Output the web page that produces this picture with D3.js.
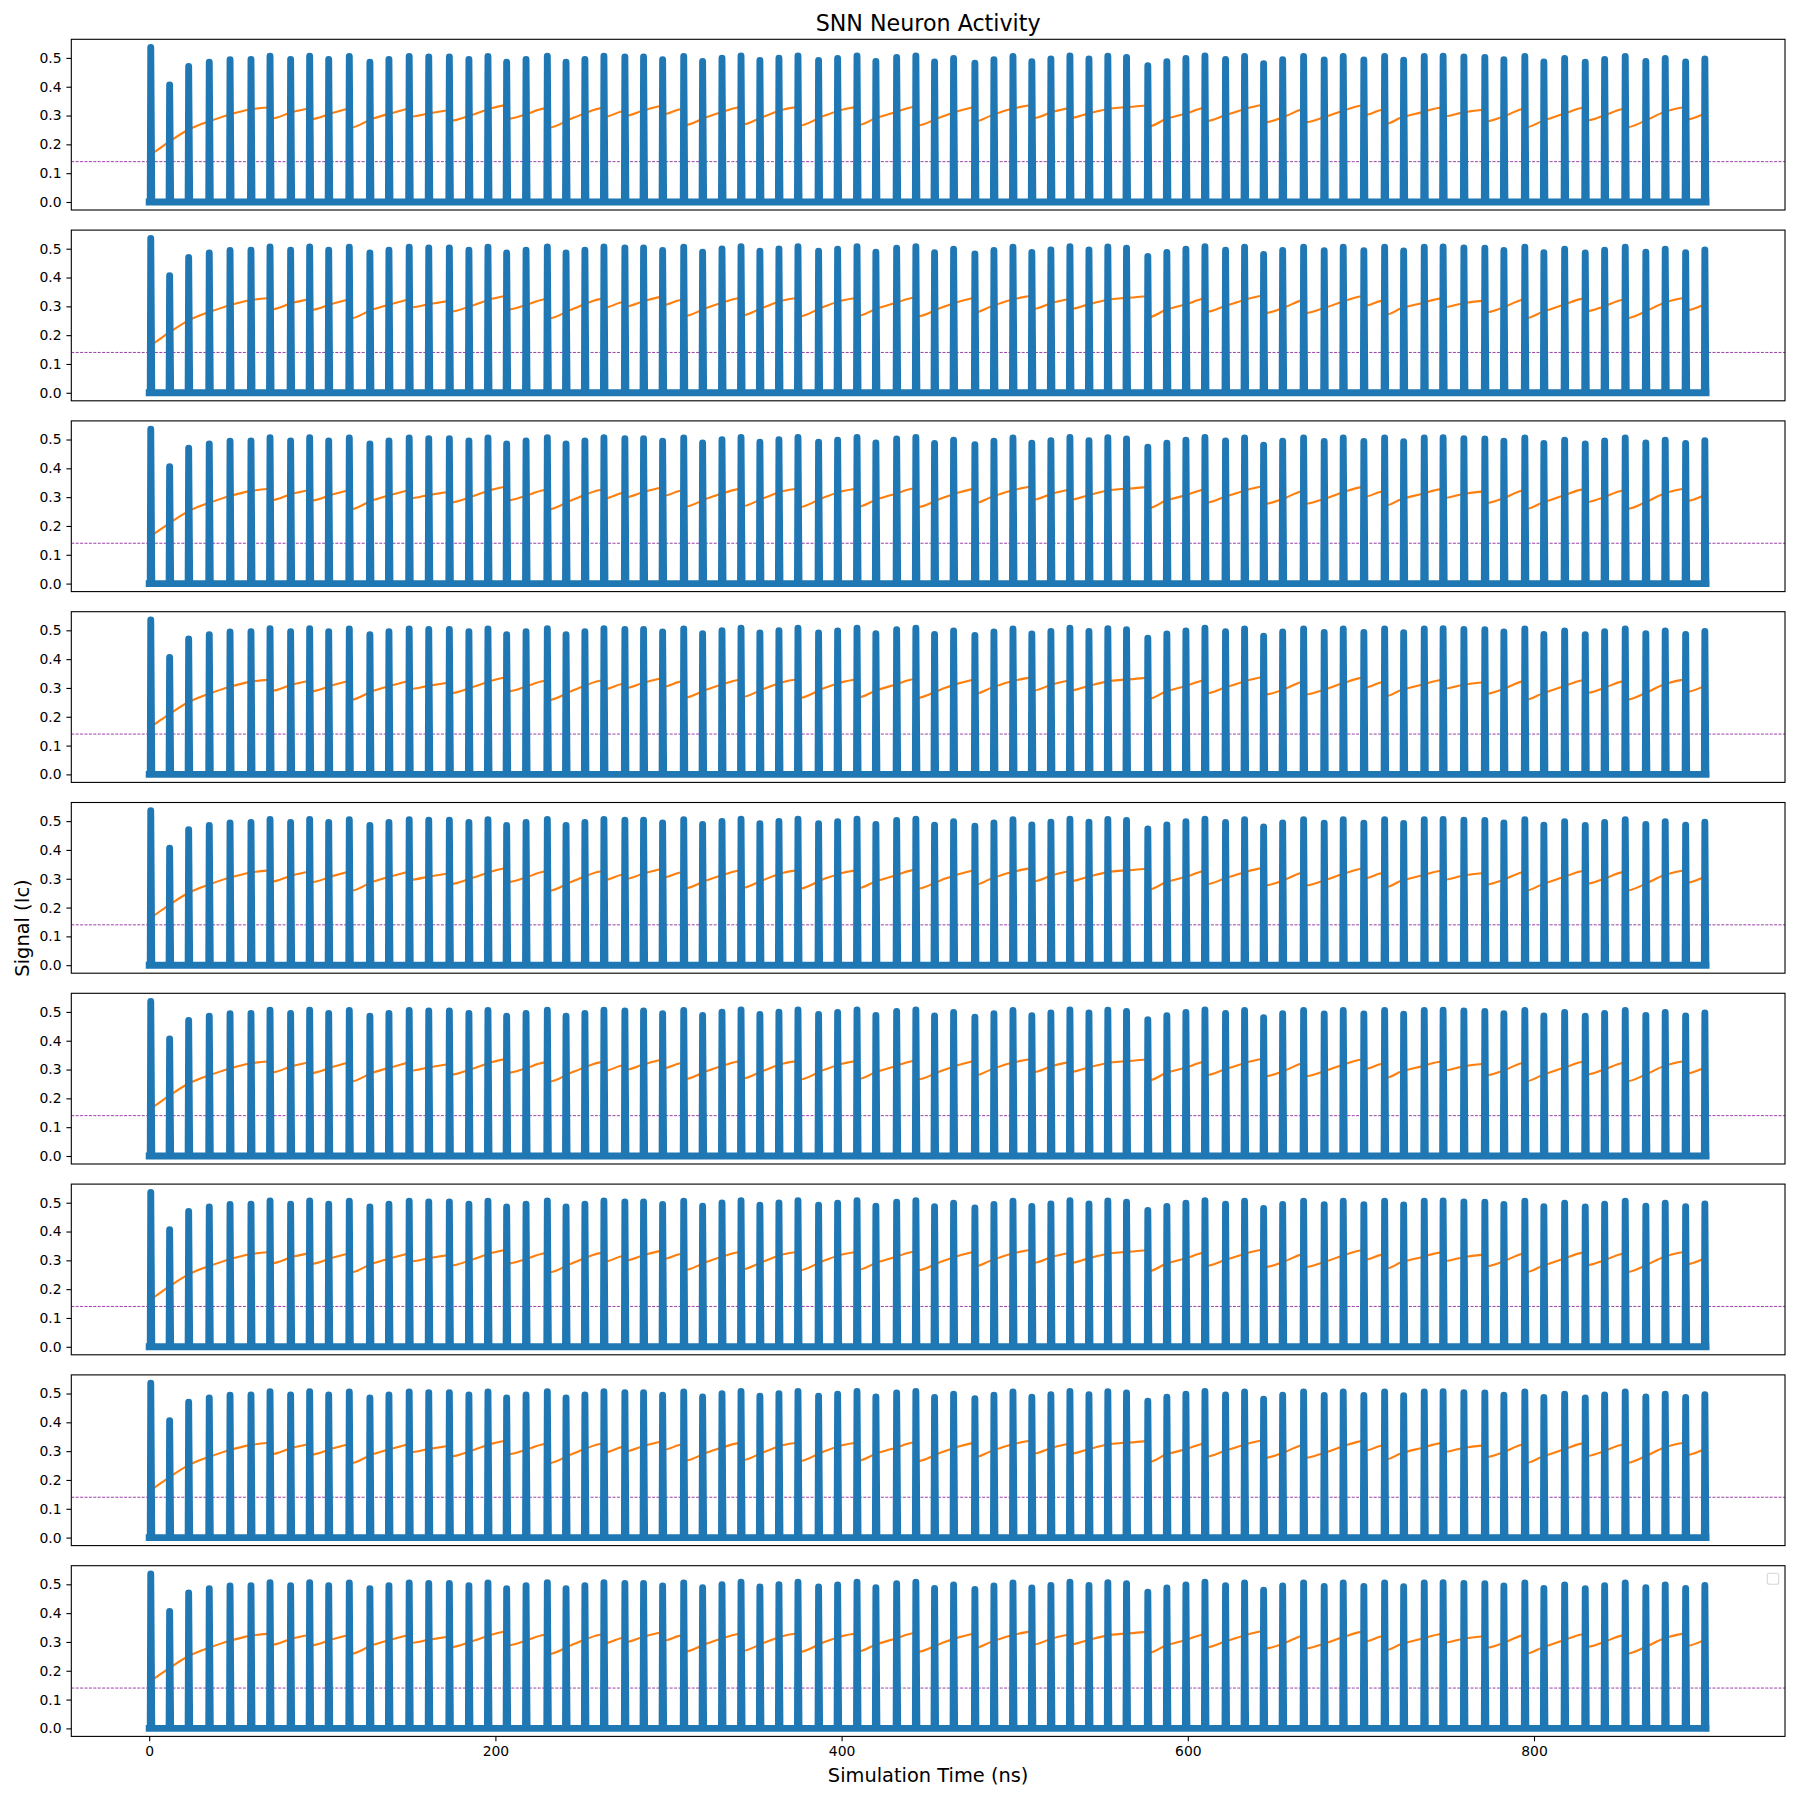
<!DOCTYPE html>
<html><head><meta charset="utf-8">
<script src="https://cdn.jsdelivr.net/npm/d3@7"></script>
<style>body{margin:0;background:#fff} text{font-family:"DejaVu Sans",sans-serif;fill:#000}</style>
</head><body><svg id="c" width="1800" height="1800"></svg>
<script>
// ---- data ----
const spikeTimes = [
  0.9, 11.8, 22.8, 34.7, 46.7, 58.8, 69.8, 81.7, 92.7, 103.7,
  115.6, 127.5, 138.5, 150.2, 161.5, 173.4, 184.7, 195.7, 206.5, 217.7,
  230.0, 240.8, 251.7, 262.7, 274.8, 285.6, 296.6, 308.8, 319.7, 330.9,
  341.9, 352.8, 363.8, 374.8, 386.7, 397.7, 408.9, 419.8, 431.8, 442.9,
  453.7, 464.7, 477.0, 488.0, 499.0, 509.9, 520.9, 531.9, 542.9, 553.8,
  564.6, 576.9, 587.9, 598.9, 609.9, 621.8, 632.8, 643.8, 654.8, 666.9,
  678.8, 689.8, 701.7, 713.7, 724.7, 736.6, 747.5, 759.5, 771.6, 782.6,
  794.7, 805.7, 817.7, 829.6, 840.8, 852.7, 864.6, 875.8, 887.6, 898.7
];
const spikeHeights = [
  0.536, 0.406, 0.470, 0.485, 0.494, 0.495, 0.506, 0.495, 0.506, 0.495,
  0.505, 0.485, 0.495, 0.505, 0.503, 0.503, 0.495, 0.505, 0.485, 0.495,
  0.506, 0.485, 0.495, 0.506, 0.503, 0.503, 0.494, 0.505, 0.488, 0.499,
  0.507, 0.491, 0.499, 0.507, 0.491, 0.498, 0.507, 0.488, 0.502, 0.507,
  0.486, 0.498, 0.482, 0.494, 0.505, 0.487, 0.496, 0.507, 0.496, 0.506,
  0.502, 0.473, 0.487, 0.498, 0.507, 0.495, 0.505, 0.480, 0.494, 0.505,
  0.493, 0.505, 0.493, 0.505, 0.492, 0.505, 0.506, 0.503, 0.502, 0.494,
  0.505, 0.486, 0.498, 0.485, 0.495, 0.505, 0.488, 0.498, 0.486, 0.496
];
const traceEnd = 899.4;
// orange trace: points, a repeated time marks a drop
const orangeTimes = [
  0.9, 2.4, 12.0, 23.6, 35.1, 46.7, 58.2, 69.8,
  69.8, 83.3, 92.7,
  92.7, 106.3, 115.6,
  115.6, 129.4, 141.0, 150.2,
  150.2, 162.0, 173.4,
  173.4, 187.3, 198.8, 206.5,
  206.5, 217.3, 227.6, 230.0,
  230.0, 245.0, 260.4, 262.7,
  262.7, 272.9, 274.8,
  274.8, 285.6, 294.7, 296.6,
  296.6, 306.2, 308.8,
  308.8, 322.2, 339.4, 341.9,
  341.9, 354.8, 366.4, 374.8,
  374.8, 389.4, 400.9, 408.9,
  408.9, 420.2, 431.8, 440.4, 442.9,
  442.9, 457.4, 467.0, 474.7, 477.0,
  477.0, 485.6, 495.2, 507.8, 509.9,
  509.9, 522.2, 529.9, 531.9,
  531.9, 542.0, 553.1, 574.2, 576.9,
  576.9, 587.4, 598.9, 608.5, 609.9,
  609.9, 622.4, 641.7, 643.8,
  643.8, 657.0, 664.7, 666.9,
  666.9, 678.2, 689.8, 699.4, 701.7,
  701.7, 711.7, 713.7,
  713.7, 723.4, 735.0, 744.6, 747.5,
  747.5, 759.1, 769.7, 771.6,
  771.6, 782.2, 792.8, 794.7,
  794.7, 805.3, 816.8, 827.4, 829.6,
  829.6, 840.0, 850.6, 852.7,
  852.7, 865.0, 874.6, 885.6, 887.6,
  887.6, 896.7
];
const orangeValues = [
  0.165, 0.171, 0.211, 0.254, 0.281, 0.304, 0.321, 0.329,
  0.289, 0.313, 0.325,
  0.287, 0.310, 0.325,
  0.257, 0.290, 0.310, 0.325,
  0.296, 0.308, 0.319,
  0.281, 0.304, 0.327, 0.337,
  0.288, 0.304, 0.324, 0.326,
  0.257, 0.292, 0.325, 0.327,
  0.295, 0.314, 0.316,
  0.299, 0.318, 0.332, 0.334,
  0.304, 0.321, 0.324,
  0.266, 0.295, 0.327, 0.330,
  0.268, 0.296, 0.321, 0.330,
  0.264, 0.298, 0.321, 0.330,
  0.266, 0.292, 0.313, 0.329, 0.331,
  0.264, 0.295, 0.315, 0.327, 0.330,
  0.279, 0.298, 0.318, 0.335, 0.337,
  0.290, 0.313, 0.324, 0.326,
  0.291, 0.306, 0.322, 0.334, 0.336,
  0.261, 0.288, 0.307, 0.326, 0.328,
  0.280, 0.303, 0.336, 0.338,
  0.276, 0.299, 0.319, 0.322,
  0.276, 0.293, 0.317, 0.334, 0.336,
  0.301, 0.319, 0.321,
  0.270, 0.293, 0.311, 0.326, 0.328,
  0.297, 0.311, 0.319, 0.320,
  0.279, 0.296, 0.322, 0.324,
  0.258, 0.282, 0.305, 0.326, 0.328,
  0.282, 0.299, 0.322, 0.324,
  0.258, 0.284, 0.311, 0.328, 0.330,
  0.286, 0.302
];
const thresholdValue = 0.14;
const xTicks = [0, 200, 400, 600, 800];
const yTicks = [0.0, 0.1, 0.2, 0.3, 0.4, 0.5];
const panelCount = 9;
const titleText = "SNN Neuron Activity";
const xLabelText = "Simulation Time (ns)";
const yLabelText = "Signal (Ic)";

// ---- layout ----
const left = 71.3, right = 1785;
const top0 = 39.3, panelH = 170.7, step = 190.8;
const svg = d3.select("#c");

const x = d3.scaleLinear().domain([-45, 945]).range([left, right]);

// blue trace points
const tracePts = [[0, 0]];
spikeTimes.forEach((t, i) => {
  tracePts.push([t - 0.3, 0], [t, spikeHeights[i]], [t + 0.6, 0]);
});
tracePts.push([traceEnd, 0]);

// orange segments split at drops
const orangeSegs = [];
let cur = [];
orangeTimes.forEach((t, i) => {
  if (i > 0 && t === orangeTimes[i - 1]) {
    orangeSegs.push(cur);
    cur = [[orangeTimes[i - 1], orangeValues[i - 1]]];
  }
  cur.push([t, orangeValues[i]]);
});
orangeSegs.push(cur);

for (let p = 0; p < panelCount; p++) {
  const top = top0 + p * step;
  const y = d3.scaleLinear().domain([-0.0278, 0.5646]).range([top + panelH, top]);
  const g = svg.append("g");
  const clipId = "clip" + p;
  svg.append("clipPath").attr("id", clipId).append("rect")
    .attr("x", left).attr("y", top).attr("width", right - left).attr("height", panelH);
  const plot = g.append("g").attr("clip-path", `url(#${clipId})`);

  // threshold
  plot.append("line")
    .attr("x1", left).attr("x2", right)
    .attr("y1", y(thresholdValue)).attr("y2", y(thresholdValue))
    .attr("stroke", "#8e2a9e").attr("stroke-width", 0.9)
    .attr("stroke-dasharray", "3,1.4");

  // orange trace
  const oLine = d3.line().x(d => x(d[0])).y(d => y(d[1])).curve(d3.curveMonotoneX);
  orangeSegs.forEach(seg => {
    plot.append("path").attr("d", oLine(seg))
      .attr("fill", "none").attr("stroke", "#ff7f0e")
      .attr("stroke-width", 2.1).attr("stroke-linecap", "square")
      .attr("stroke-linejoin", "round");
  });

  // blue spikes
  const bLine = d3.line().x(d => x(d[0])).y(d => y(d[1]));
  plot.append("path").attr("d", bLine(tracePts))
    .attr("fill", "none").attr("stroke", "#1f77b4")
    .attr("stroke-width", 6.9).attr("stroke-linejoin", "round")
    .attr("stroke-linecap", "square");

  // y axis
  const yAxis = d3.axisLeft(y).tickValues(yTicks).tickFormat(d3.format(".1f"))
    .tickSizeInner(4.9).tickSizeOuter(0).tickPadding(4.9);
  const ya = g.append("g").attr("transform", `translate(${left},0)`).call(yAxis);
  ya.select(".domain").remove();
  ya.selectAll(".tick line").attr("stroke", "#000").attr("stroke-width", 1.1);
  ya.selectAll(".tick text").attr("font-size", 13.9).attr("font-family", "DejaVu Sans")
    .attr("fill", "#000");

  // x axis only bottom
  if (p === panelCount - 1) {
    const xAxis = d3.axisBottom(x).tickValues(xTicks).tickFormat(d3.format("d"))
      .tickSizeInner(4.9).tickSizeOuter(0).tickPadding(4.9);
    const xa = g.append("g").attr("transform", `translate(0,${top + panelH})`).call(xAxis);
    xa.select(".domain").remove();
    xa.selectAll(".tick line").attr("stroke", "#000").attr("stroke-width", 1.1);
    xa.selectAll(".tick text").attr("font-size", 13.9).attr("font-family", "DejaVu Sans")
      .attr("fill", "#000");

    // empty legend frame
    g.append("rect").attr("x", 1767.3).attr("y", top + 7.5).attr("width", 11.4).attr("height", 11)
      .attr("rx", 2).attr("fill", "#fff").attr("fill-opacity", 0.8)
      .attr("stroke", "#d6d6d6").attr("stroke-width", 1.1);
  }

  // frame
  g.append("rect").attr("x", left).attr("y", top).attr("width", right - left).attr("height", panelH)
    .attr("fill", "none").attr("stroke", "#000").attr("stroke-width", 1.1);

  if (p === 0) {
    svg.append("text").attr("x", (left + right) / 2).attr("y", top - 8.3)
      .attr("text-anchor", "middle").attr("font-size", 22.2).text(titleText);
  }
}

svg.append("text").attr("x", (left + right) / 2).attr("y", 1782)
  .attr("text-anchor", "middle").attr("font-size", 19.4).text(xLabelText);
svg.append("text").attr("transform", "translate(29,928) rotate(-90)")
  .attr("text-anchor", "middle").attr("font-size", 19.4).text(yLabelText);
</script></body></html>
